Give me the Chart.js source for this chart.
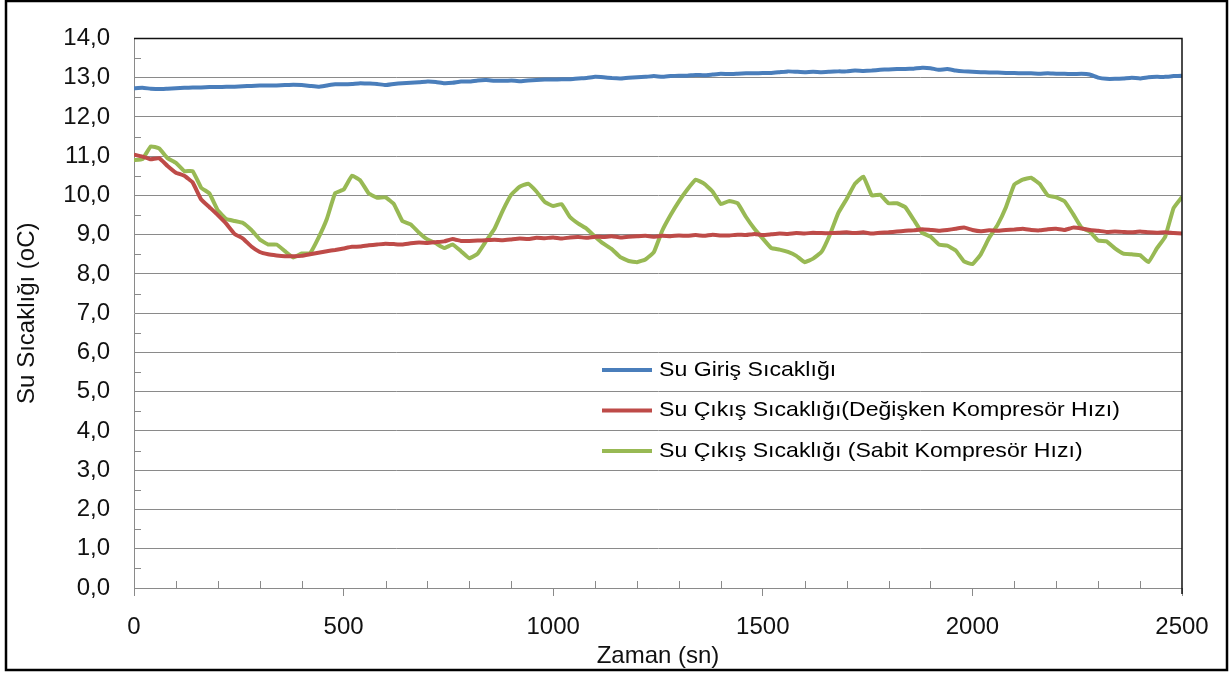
<!DOCTYPE html>
<html>
<head>
<meta charset="utf-8">
<script src="https://cdn.jsdelivr.net/npm/chart.js@4"></script>
<style>
  body { margin: 0; background: #fff; }
  canvas { display: block; }
</style>
</head>
<body>
<canvas id="chart" width="1231" height="673"></canvas>
<script>
// Zaman (sn) - 20 s aralıklarla
const zaman = [];
for (let t = 0; t <= 2500; t += 20) zaman.push(t);

const suGiris = [
  12.73, 12.74, 12.72, 12.71, 12.72, 12.73, 12.74, 12.75, 12.75, 12.76,
  12.76, 12.77, 12.77, 12.78, 12.79, 12.80, 12.80, 12.80, 12.81, 12.82,
  12.81, 12.79, 12.77, 12.80, 12.83, 12.83, 12.84, 12.86, 12.85, 12.84,
  12.81, 12.84, 12.86, 12.87, 12.88, 12.90, 12.89, 12.86, 12.87, 12.90,
  12.90, 12.93, 12.94, 12.92, 12.92, 12.93, 12.91, 12.93, 12.94, 12.95,
  12.95, 12.96, 12.96, 12.98, 12.99, 13.02, 13.01, 12.99, 12.98, 13.00,
  13.01, 13.02, 13.04, 13.02, 13.04, 13.05, 13.05, 13.07, 13.06, 13.08,
  13.10, 13.09, 13.10, 13.11, 13.11, 13.12, 13.12, 13.14, 13.16, 13.15,
  13.14, 13.15, 13.14, 13.15, 13.16, 13.16, 13.18, 13.17, 13.18, 13.20,
  13.21, 13.22, 13.22, 13.23, 13.25, 13.24, 13.20, 13.22, 13.18, 13.16,
  13.15, 13.14, 13.13, 13.13, 13.12, 13.12, 13.11, 13.11, 13.10, 13.11,
  13.10, 13.10, 13.09, 13.10, 13.08, 13.00, 12.97, 12.97, 12.98, 13.00,
  12.98, 13.01, 13.02, 13.02, 13.04, 13.05
];

const suCikisDegisken = [
  11.04, 10.99, 10.92, 10.95, 10.75, 10.58, 10.50, 10.33, 9.90, 9.70,
  9.50, 9.28, 9.02, 8.90, 8.70, 8.56, 8.50, 8.47, 8.45, 8.45,
  8.46, 8.50, 8.54, 8.58, 8.61, 8.65, 8.69, 8.70, 8.73, 8.75,
  8.77, 8.76, 8.75, 8.78, 8.80, 8.79, 8.81, 8.83, 8.89, 8.84,
  8.84, 8.85, 8.86, 8.87, 8.86, 8.88, 8.90, 8.89, 8.92, 8.91,
  8.93, 8.90, 8.93, 8.94, 8.92, 8.95, 8.94, 8.96, 8.93, 8.95,
  8.96, 8.97, 8.95, 8.97, 8.96, 8.98, 8.97, 8.99, 8.97, 9.00,
  8.98, 8.98, 9.00, 8.99, 9.02, 8.99, 9.01, 9.03, 9.02, 9.04,
  9.03, 9.05, 9.04, 9.04, 9.05, 9.06, 9.04, 9.06, 9.03, 9.05,
  9.06, 9.08, 9.10, 9.11, 9.14, 9.12, 9.10, 9.12, 9.15, 9.18,
  9.12, 9.09, 9.11, 9.10, 9.12, 9.13, 9.15, 9.12, 9.11, 9.14,
  9.15, 9.12, 9.18, 9.16, 9.12, 9.10, 9.07, 9.08, 9.07, 9.06,
  9.08, 9.06, 9.05, 9.06, 9.04, 9.03
];

const suCikisSabit = [
  10.90, 10.92, 11.25, 11.20, 10.95, 10.83, 10.62, 10.62, 10.20, 10.05,
  9.62, 9.40, 9.35, 9.30, 9.12, 8.88, 8.75, 8.75, 8.58, 8.42,
  8.52, 8.53, 8.92, 9.40, 10.06, 10.15, 10.50, 10.38, 10.05, 9.94,
  9.95, 9.78, 9.35, 9.26, 9.05, 8.88, 8.78, 8.66, 8.75, 8.58,
  8.40, 8.52, 8.84, 9.15, 9.62, 10.02, 10.22, 10.30, 10.10, 9.83,
  9.73, 9.78, 9.45, 9.28, 9.15, 8.95, 8.77, 8.63, 8.43, 8.33,
  8.30, 8.37, 8.55, 9.10, 9.50, 9.85, 10.15, 10.40, 10.30, 10.10,
  9.78, 9.86, 9.80, 9.45, 9.15, 8.90, 8.66, 8.62, 8.56, 8.46,
  8.30, 8.39, 8.56, 9.00, 9.55, 9.91, 10.30, 10.48, 10.00, 10.02,
  9.80, 9.80, 9.70, 9.38, 9.05, 8.95, 8.75, 8.72, 8.60, 8.32,
  8.25, 8.50, 8.92, 9.25, 9.70, 10.28, 10.40, 10.45, 10.30, 10.00,
  9.95, 9.85, 9.53, 9.18, 9.08, 8.85, 8.83, 8.65, 8.52, 8.50,
  8.48, 8.30, 8.65, 8.95, 9.68, 9.96
];

const seriler = ['Su Giriş Sıcaklığı', 'Su Çıkış Sıcaklığı(Değişken Kompresör Hızı)', 'Su Çıkış Sıcaklığı (Sabit Kompresör Hızı)'];
const renkler = ['#4a7ebb', '#be4b48', '#98b954'];

const FONT = "'Liberation Sans', Arial, sans-serif";
const pts = vals => zaman.map((t, i) => ({ x: t, y: vals[i] }));

// küçük çentikler, çerçeve ve grafik içi açıklama
const extras = {
  id: 'extras',
  afterDraw(chart) {
    const { ctx, chartArea: a, scales: { x, y } } = chart;
    ctx.save();
    ctx.strokeStyle = '#8a8a8a';
    ctx.lineWidth = 1;
    ctx.beginPath();
    for (let v = 0.5; v < 14; v += 1) {
      const py = Math.round(y.getPixelForValue(v)) + 0.5;
      ctx.moveTo(a.left, py); ctx.lineTo(a.left + 7, py);
    }
    for (let t = 100; t < 2500; t += 100) {
      if (t % 500 === 0) continue;
      const px = Math.round(x.getPixelForValue(t)) + 0.5;
      ctx.moveTo(px, a.bottom); ctx.lineTo(px, a.bottom - 7);
    }
    ctx.stroke();

    // üst ve sağ kenar
    ctx.strokeStyle = '#111';
    ctx.lineWidth = 1.5;
    ctx.beginPath();
    ctx.moveTo(a.left, a.top); ctx.lineTo(a.right, a.top); ctx.lineTo(a.right, a.bottom + 6);
    ctx.stroke();

    // açıklama
    chart.data.datasets.forEach((ds, i) => {
      const ly = 370 + i * 40.5;
      ctx.strokeStyle = ds.borderColor;
      ctx.lineWidth = 4;
      ctx.beginPath();
      ctx.moveTo(602, ly); ctx.lineTo(652, ly);
      ctx.stroke();
      ctx.save();
      ctx.translate(659, ly);
      ctx.scale(1.1, 1);
      ctx.font = '21px ' + FONT;
      ctx.textBaseline = 'middle';
      ctx.fillStyle = '#000';
      ctx.fillText(ds.label, 0, 0);
      ctx.restore();
    });

    // dış çerçeve
    ctx.strokeStyle = '#000';
    ctx.lineWidth = 2.5;
    ctx.strokeRect(6, 1, 1221, 669);
    ctx.restore();
  }
};

new Chart(document.getElementById('chart'), {
  type: 'line',
  data: {
    datasets: [suGiris, suCikisDegisken, suCikisSabit].map((vals, i) => ({
      label: seriler[i],
      data: pts(vals),
      borderColor: renkler[i],
      backgroundColor: renkler[i],
      borderWidth: 4,
      pointRadius: 0,
      tension: 0.1,
      fill: false
    }))
  },
  options: {
    responsive: false,
    animation: false,
    layout: { padding: { left: 0, top: 38, right: 49, bottom: 0 } },
    plugins: {
      legend: { display: false },
      tooltip: { enabled: false }
    },
    scales: {
      x: {
        type: 'linear',
        min: 0,
        max: 2500,
        afterFit: s => { s.height = 85; },
        ticks: { stepSize: 500, color: '#111', padding: 17, font: { family: FONT, size: 24 }, callback: v => String(v) },
        grid: { drawOnChartArea: false, tickLength: 8, color: '#8a8a8a' },
        border: { color: '#8a8a8a', width: 1 },
        title: { display: true, text: 'Zaman (sn)', color: '#111', font: { family: FONT, size: 24 }, padding: { top: 0, bottom: 2 } }
      },
      y: {
        min: 0,
        max: 14,
        afterFit: s => { s.width = 134; },
        ticks: {
          stepSize: 1,
          color: '#111',
          padding: 24,
          font: { family: FONT, size: 24 },
          callback: v => v.toFixed(1).replace('.', ',')
        },
        grid: { drawTicks: false, color: '#8a8a8a', lineWidth: 1 },
        border: { color: '#8a8a8a', width: 1 },
        title: { display: true, text: 'Su Sıcaklığı (oC)', color: '#111', font: { family: FONT, size: 24 }, padding: { top: 13, bottom: 0 } }
      }
    }
  },
  plugins: [extras]
});
</script>
</body>
</html>
